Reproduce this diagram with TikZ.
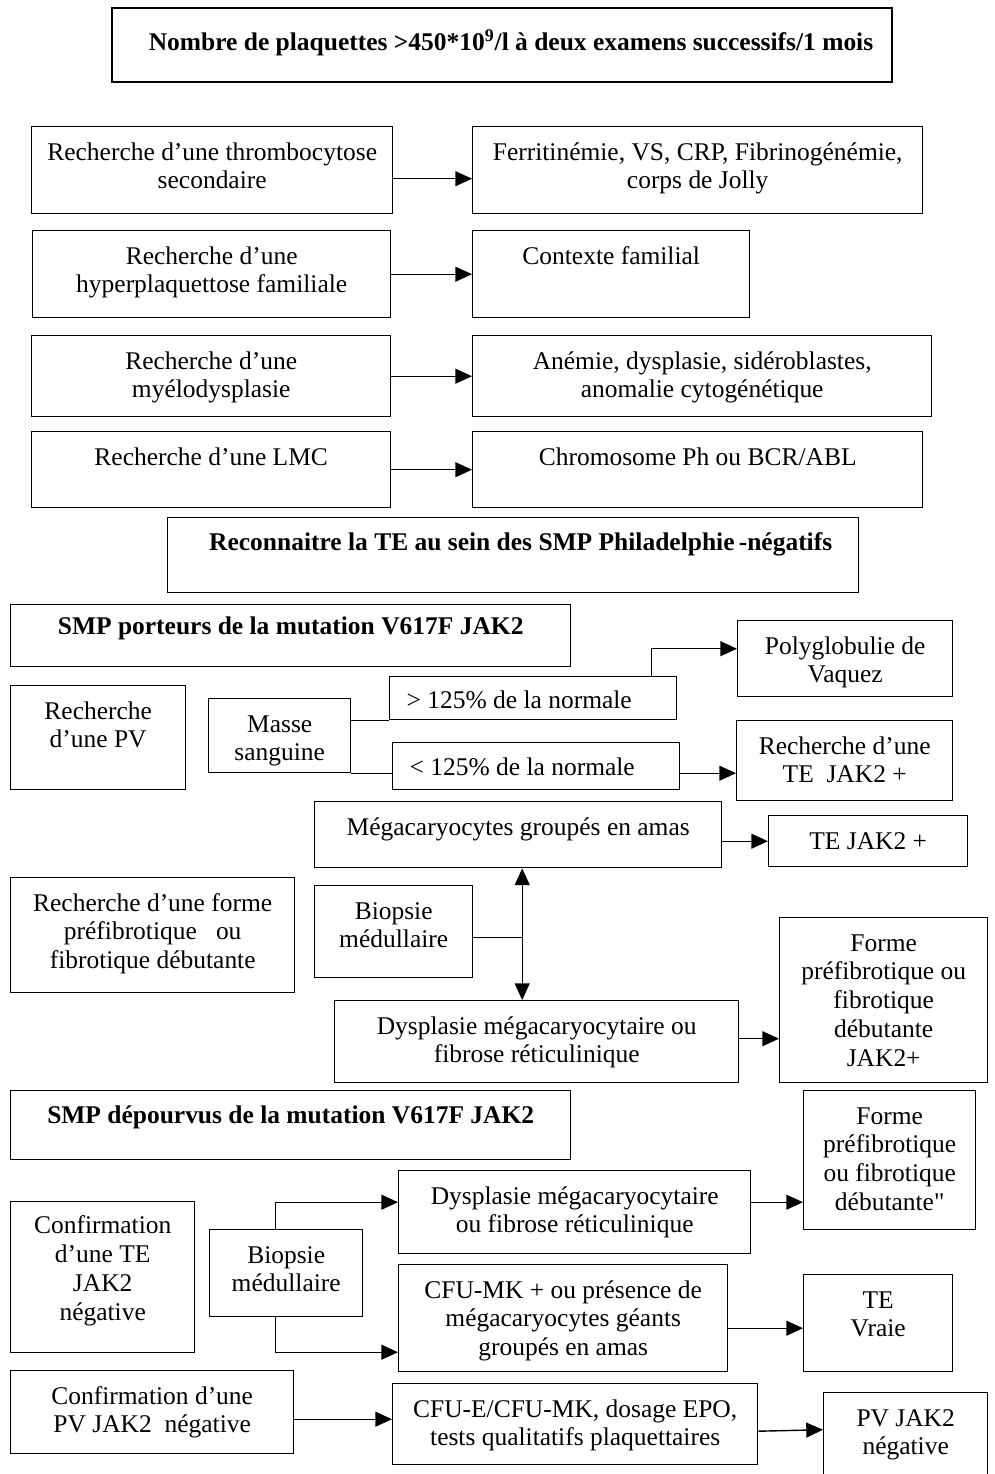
\documentclass[tikz,border=0pt]{standalone}
\usepackage{fontspec}
\setmainfont{Liberation Serif}
\newfontfamily\plainserif{Liberation Serif}
\usetikzlibrary{arrows.meta}

\newdimen\pxu
\pxu=0.02cm
% box text: [first baseline]{width}{height}{text}
\newcommand{\boxtxt}[4][19pt]{\begin{minipage}[t][#3\pxu][t]{#2\pxu}\centering\rule{0pt}{#1}#4\end{minipage}}

\begin{document}
\begin{tikzpicture}[
    x=0.02cm, y=-0.02cm,
    box/.style={draw, line width=0.8pt, inner sep=0pt, anchor=north west,
                font=\fontsize{14.5}{16.4}\selectfont},
    head/.style={box, font=\fontsize{14.5}{16.4}\selectfont\bfseries},
    line/.style={line width=0.8pt},
    arrow/.style={line, -{Triangle[length=9.5pt, width=8.5pt]}},
    dblarrow/.style={line, {Triangle[length=9.5pt, width=8.5pt]}-{Triangle[length=9.5pt, width=8.5pt]}}
]
    \useasboundingbox (0,0) rectangle (994,1474);
    \clip (0,0) rectangle (994,1474);

    % Titre
    \node[head, line width=1.2pt] (titre) at (111,7) {\boxtxt[24.4pt]{780}{74}{\hspace*{18\pxu}Nombre de plaquettes >450*10\textsuperscript{9}/l à deux examens successifs/1 mois}};

    % Nodes - Recherches
    \node[box] (r1l) at (31,126) {\boxtxt{361}{87}{Recherche d’une thrombocytose\\secondaire}};
    \node[box] (r1r) at (472,126) {\boxtxt{450}{87}{Ferritinémie, VS, CRP, Fibrinogénémie,\\corps de Jolly}};
    \node[box] (r2l) at (32,230) {\boxtxt{358}{87}{Recherche d’une\\hyperplaquettose familiale}};
    \node[box] (r2r) at (472,230) {\boxtxt{277}{87}{Contexte familial}};
    \node[box] (r3l) at (31,335) {\boxtxt{359}{81}{Recherche d’une\\myélodysplasie}};
    \node[box] (r3r) at (472,335) {\boxtxt{459}{81}{Anémie, dysplasie, sidéroblastes,\\anomalie cytogénétique}};
    \node[box] (r4l) at (31,431) {\boxtxt{359}{76}{Recherche d’une LMC}};
    \node[box] (r4r) at (472,431) {\boxtxt{450}{76}{Chromosome Ph ou BCR/ABL}};

    % Arrows
    \draw[arrow] ([yshift=-8.5\pxu]r1l.east) -- ([yshift=-8.5\pxu]r1r.west);
    \draw[arrow] (r2l) -- (r2r);
    \draw[arrow] (r3l) -- (r3r);
    \draw[arrow] (r4l) -- (r4r);

    % Nodes - SMP Philadelphie-negatifs
    \node[head] (h2) at (167,517) {\boxtxt[18.7pt]{691}{75}{\hspace*{15\pxu}Reconnaitre la TE au sein des SMP Philadelphie\,-négatifs}};
    \node[head] (h3) at (10,604) {\boxtxt[17pt]{560}{62}{SMP porteurs de la mutation V617F JAK2}};

    % Nodes - PV
    \node[box] (pv) at (10,685) {\boxtxt{175}{104}{Recherche\\d’une PV}};
    \node[box] (masse) at (208,698) {\boxtxt{142}{74}{Masse\\sanguine}};
    \node[box] (plus) at (389,676) {\boxtxt[18.2pt]{287}{43}{\hspace*{-28\pxu}> 125\% de la normale}};
    \node[box] (moins) at (392,742) {\boxtxt[18.7pt]{287}{47}{\hspace*{-28\pxu}< 125\% de la normale}};
    \node[box] (vaquez) at (737,620) {\boxtxt{215}{76}{Polyglobulie de\\Vaquez}};
    \node[box] (rte) at (736,720) {\boxtxt{216}{80}{Recherche d’une\\TE~~JAK2 +}};

    \draw[line] (masse.east |- plus.south west) -- (plus.south west);
    \draw[line] (masse.south east) -- (masse.south east -| moins.west);
    \draw[arrow] ([xshift=-26\pxu]plus.north east) |- ([yshift=10\pxu]vaquez.west);
    \draw[arrow] ([yshift=-7\pxu]moins.east) -- ([yshift=-7\pxu]moins.east -| rte.west);

    % Nodes - forme prefibrotique
    \node[box] (mega) at (314,801) {\boxtxt{407}{66}{Mégacaryocytes groupés en amas}};
    \node[box] (te) at (768,815) {\boxtxt{199}{51}{TE JAK2 +}};
    \node[box] (rforme) at (10,877) {\boxtxt{284}{115}{Recherche d’une forme\\préfibrotique~~~ou\\fibrotique débutante}};
    \node[box] (bmo) at (314,885) {\boxtxt{158}{92}{Biopsie\\médullaire}};
    \node[box] (dysp) at (334,1000) {\boxtxt{404}{82}{Dysplasie mégacaryocytaire ou\\fibrose réticulinique}};
    \node[box] (forme) at (779,917) {\boxtxt{208}{165}{Forme\\préfibrotique ou\\fibrotique\\débutante\\JAK2+}};

    \coordinate (bmoj) at ([xshift=4\pxu]mega.south);
    \draw[arrow] (mega.east |- te.west) -- (te.west);
    \draw[line] ([yshift=-6\pxu]bmo.east) -- ([yshift=-6\pxu]bmo.east -| bmoj);
    \draw[dblarrow] (bmoj) -- (bmoj |- dysp.north);
    \draw[arrow] ([yshift=3\pxu]dysp.east) -- ([yshift=3\pxu]dysp.east -| forme.west);

    % Nodes - SMP sans JAK2
    \node[head] (h4) at (10,1090) {\boxtxt[18.7pt]{560}{69}{SMP dépourvus de la mutation V617F JAK2}};
    \node[box] (forme2) at (803,1090) {\boxtxt{172}{139}{Forme\\préfibrotique\\ou fibrotique\\débutante{\plainserif"}}\hspace{28\pxu}};
    \node[box] (conf) at (10,1201) {\boxtxt[18.2pt]{184}{151}{Confirmation\\d’une TE\\JAK2\\négative}};
    \node[box] (bmo2) at (209,1229) {\boxtxt{153}{87}{Biopsie\\médullaire}};
    \node[box] (dysp2) at (398,1170) {\boxtxt{352}{83}{Dysplasie mégacaryocytaire\\ou fibrose réticulinique}};
    \node[box] (cfu) at (398,1264) {\boxtxt{329}{107}{CFU-MK + ou présence de\\mégacaryocytes géants\\groupés en amas}};
    \node[box] (vraie) at (803,1274) {\boxtxt{149}{97}{TE\\Vraie}};
    \node[box] (confpv) at (10,1370) {\boxtxt{283}{83}{Confirmation d’une\\PV JAK2~~négative}};
    \node[box] (cfue) at (392,1383) {\boxtxt{365}{81}{CFU-E/CFU-MK, dosage EPO,\\tests qualitatifs plaquettaires}};
    \node[box] (pvneg) at (823,1392) {\boxtxt{164}{90}{PV JAK2\\négative}};

    \draw[arrow] ([xshift=-11\pxu]bmo2.north) |- ([yshift=10\pxu]dysp2.west);
    \draw[arrow] ([xshift=-11\pxu]bmo2.south) |- ([yshift=-34\pxu]cfu.west);
    \draw[arrow] ([yshift=10\pxu]dysp2.east) -- ([yshift=10\pxu]dysp2.east -| forme2.west);
    \draw[arrow] ([yshift=-10\pxu]cfu.east) -- ([yshift=-10\pxu]cfu.east -| vraie.west);
    \draw[arrow] ([yshift=-7\pxu]confpv.east) -- ([yshift=-7\pxu]confpv.east -| cfue.west);
    \draw[arrow] ([yshift=-7\pxu]cfue.east) -- ([yshift=8\pxu]pvneg.west);
\end{tikzpicture}
\end{document}
